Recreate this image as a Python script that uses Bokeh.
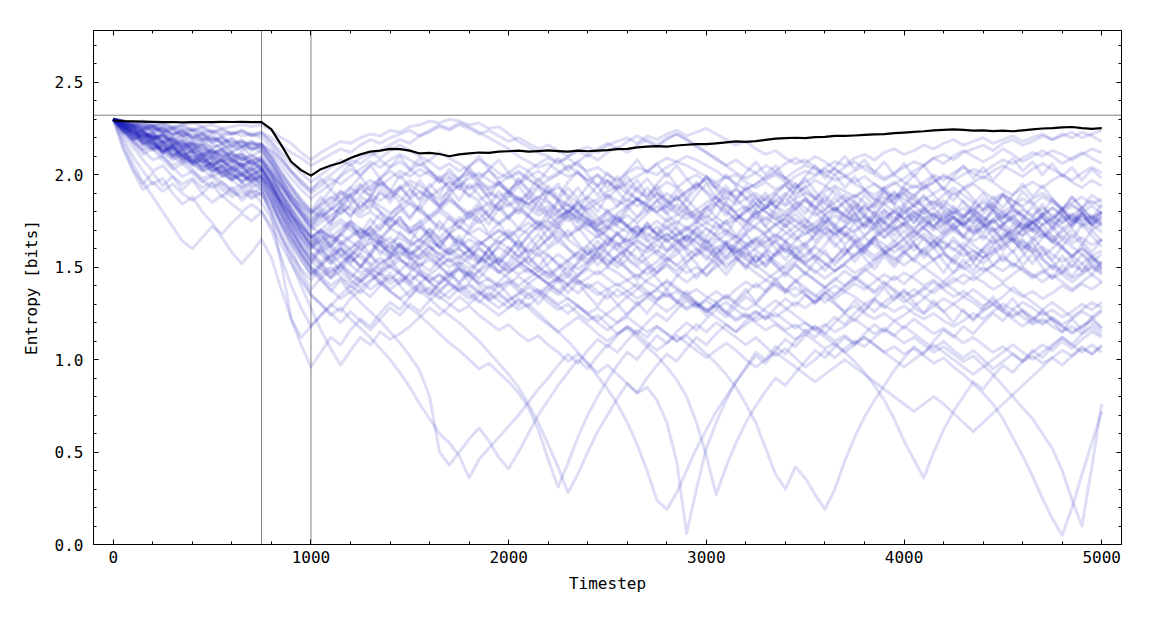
from bokeh.plotting import figure
from bokeh.models import Range1d, LinearAxis, SingleIntervalTicker, PrintfTickFormatter, Span
from bokeh.embed import file_html
from bokeh.resources import INLINE

# ---------------- data ----------------
timestep = list(range(0, 5001, 50))
marker_steps = [750, 1000]
max_entropy = 2.3219

mean_run = [2.294, 2.290, 2.288, 2.287, 2.286, 2.284, 2.285, 2.283, 2.284, 2.285, 2.284, 2.286, 2.285, 2.286, 2.284, 2.285,
            2.245, 2.160, 2.070, 2.025, 1.995,
            2.030, 2.050, 2.065, 2.090, 2.110, 2.125, 2.130, 2.140, 2.138, 2.130, 2.115, 2.118, 2.112, 2.100, 2.110, 2.115, 2.120, 2.118, 2.125, 2.127,
            2.130, 2.125, 2.128, 2.132, 2.128, 2.125, 2.130, 2.127, 2.130, 2.133, 2.138, 2.140, 2.148, 2.152, 2.155, 2.152, 2.158, 2.162, 2.165, 2.165,
            2.170, 2.175, 2.180, 2.178, 2.182, 2.188, 2.195, 2.198, 2.200, 2.198, 2.203, 2.205, 2.210, 2.210, 2.212, 2.215, 2.218, 2.220, 2.225, 2.228,
            2.232, 2.235, 2.240, 2.243, 2.245, 2.242, 2.238, 2.240, 2.236, 2.238, 2.235, 2.240, 2.245, 2.250, 2.252, 2.256, 2.258, 2.252, 2.248, 2.252]

run01 = [2.30, 2.29, 2.28, 2.29, 2.27, 2.28, 2.26, 2.27, 2.28, 2.26, 2.27, 2.25, 2.26, 2.27, 2.26, 2.27,
         2.24, 2.20, 2.17, 2.12, 2.08,
         2.12, 2.15, 2.18, 2.17, 2.20, 2.22, 2.21, 2.24, 2.23, 2.26, 2.27, 2.29, 2.28, 2.30, 2.29, 2.27, 2.28, 2.25, 2.26, 2.22,
         2.18, 2.15, 2.12, 2.10, 2.07, 2.09, 2.05, 2.02, 2.04, 2.00, 1.97, 2.01, 2.04, 2.02, 2.06, 2.09, 2.07, 2.10, 2.08, 2.05,
         2.02, 1.98, 2.00, 1.96, 1.93, 1.96, 1.92, 1.95, 1.99, 2.02, 2.00, 2.04, 2.07, 2.05, 2.09, 2.11, 2.08, 2.12, 2.14, 2.11,
         2.13, 2.16, 2.14, 2.17, 2.19, 2.16, 2.18, 2.20, 2.17, 2.19, 2.21, 2.18, 2.20, 2.22, 2.19, 2.21, 2.23, 2.20, 2.22, 2.24]
run02 = [2.30, 2.28, 2.27, 2.25, 2.26, 2.24, 2.25, 2.23, 2.24, 2.22, 2.23, 2.21, 2.22, 2.24, 2.22, 2.23,
         2.20, 2.16, 2.12, 2.09, 2.05,
         2.08, 2.11, 2.14, 2.12, 2.16, 2.19, 2.17, 2.20, 2.22, 2.24, 2.21, 2.23, 2.26, 2.24, 2.27, 2.25, 2.22, 2.24, 2.21, 2.18,
         2.20, 2.17, 2.14, 2.16, 2.13, 2.10, 2.13, 2.15, 2.12, 2.16, 2.18, 2.20, 2.17, 2.21, 2.19, 2.22, 2.24, 2.21, 2.23, 2.25,
         2.22, 2.19, 2.16, 2.18, 2.14, 2.11, 2.13, 2.09, 2.06, 2.08, 2.04, 2.01, 2.03, 1.99, 2.02, 2.05, 2.02, 1.98, 2.01, 2.04,
         2.07, 2.05, 2.09, 2.11, 2.08, 2.12, 2.14, 2.16, 2.13, 2.17, 2.19, 2.16, 2.18, 2.21, 2.19, 2.22, 2.20, 2.23, 2.21, 2.18]
run03 = [2.30, 2.27, 2.24, 2.22, 2.20, 2.21, 2.18, 2.19, 2.16, 2.17, 2.15, 2.16, 2.13, 2.15, 2.17, 2.16,
         2.13, 2.08, 2.02, 1.97, 1.92,
         1.96, 2.00, 2.04, 2.08, 2.06, 2.10, 2.13, 2.16, 2.19, 2.17, 2.21, 2.24, 2.27, 2.25, 2.28, 2.26, 2.23, 2.20, 2.17, 2.14,
         2.10, 2.07, 2.04, 2.06, 2.02, 1.99, 2.01, 1.97, 1.94, 1.97, 1.93, 1.96, 1.99, 2.02, 2.00, 2.04, 2.07, 2.05, 2.02, 1.99,
         1.96, 1.99, 1.95, 1.92, 1.95, 1.98, 2.01, 1.98, 2.02, 2.05, 2.03, 2.00, 1.97, 1.99, 1.95, 1.92, 1.95, 1.91, 1.88, 1.91,
         1.94, 1.92, 1.96, 1.99, 1.97, 2.00, 2.03, 2.01, 2.05, 2.08, 2.06, 2.09, 2.12, 2.10, 2.13, 2.11, 2.08, 2.11, 2.14, 2.12]
run04 = [2.30, 2.26, 2.22, 2.19, 2.16, 2.12, 2.14, 2.10, 2.07, 2.09, 2.05, 2.08, 2.04, 2.06, 2.03, 2.05,
         2.00, 1.93, 1.86, 1.80, 1.74,
         1.78, 1.82, 1.79, 1.84, 1.88, 1.85, 1.90, 1.87, 1.92, 1.95, 1.91, 1.88, 1.92, 1.96, 1.93, 1.89, 1.86, 1.90, 1.87, 1.83,
         1.86, 1.82, 1.78, 1.81, 1.77, 1.80, 1.84, 1.81, 1.85, 1.89, 1.86, 1.83, 1.87, 1.84, 1.80, 1.83, 1.79, 1.76, 1.79, 1.82,
         1.85, 1.88, 1.84, 1.87, 1.90, 1.86, 1.83, 1.80, 1.84, 1.87, 1.83, 1.79, 1.82, 1.78, 1.75, 1.78, 1.74, 1.77, 1.80, 1.76,
         1.79, 1.82, 1.78, 1.74, 1.77, 1.73, 1.76, 1.72, 1.75, 1.78, 1.74, 1.71, 1.74, 1.77, 1.73, 1.76, 1.79, 1.75, 1.78, 1.74]
run05 = [2.30, 2.25, 2.20, 2.16, 2.18, 2.13, 2.09, 2.11, 2.06, 2.02, 2.05, 2.01, 1.97, 2.00, 1.96, 1.98,
         1.92, 1.85, 1.78, 1.72, 1.66,
         1.62, 1.67, 1.64, 1.60, 1.65, 1.69, 1.66, 1.71, 1.68, 1.64, 1.60, 1.64, 1.61, 1.57, 1.61, 1.65, 1.62, 1.66, 1.70, 1.67,
         1.71, 1.68, 1.72, 1.75, 1.71, 1.67, 1.70, 1.74, 1.70, 1.66, 1.62, 1.65, 1.61, 1.58, 1.62, 1.59, 1.63, 1.67, 1.64, 1.60,
         1.57, 1.61, 1.58, 1.62, 1.66, 1.63, 1.67, 1.64, 1.60, 1.63, 1.67, 1.71, 1.68, 1.72, 1.69, 1.73, 1.70, 1.66, 1.70, 1.74,
         1.71, 1.75, 1.72, 1.68, 1.71, 1.67, 1.64, 1.67, 1.63, 1.66, 1.70, 1.67, 1.71, 1.68, 1.64, 1.67, 1.63, 1.66, 1.62, 1.65]
run06 = [2.30, 2.28, 2.25, 2.23, 2.20, 2.22, 2.19, 2.16, 2.18, 2.15, 2.12, 2.14, 2.11, 2.08, 2.10, 2.07,
         2.01, 1.94, 1.88, 1.83, 1.79,
         1.83, 1.87, 1.91, 1.88, 1.93, 1.97, 1.94, 1.98, 2.02, 1.99, 2.03, 2.00, 1.96, 1.99, 1.95, 1.92, 1.95, 1.91, 1.88, 1.91,
         1.87, 1.84, 1.88, 1.85, 1.81, 1.77, 1.80, 1.76, 1.73, 1.76, 1.72, 1.69, 1.72, 1.68, 1.65, 1.68, 1.64, 1.67, 1.71, 1.74,
         1.71, 1.75, 1.78, 1.75, 1.79, 1.82, 1.86, 1.83, 1.87, 1.90, 1.87, 1.91, 1.94, 1.91, 1.88, 1.91, 1.87, 1.84, 1.87, 1.90,
         1.86, 1.83, 1.86, 1.82, 1.79, 1.82, 1.78, 1.81, 1.84, 1.80, 1.83, 1.87, 1.84, 1.88, 1.85, 1.81, 1.84, 1.80, 1.83, 1.79]
run07 = [2.30, 2.22, 2.15, 2.08, 2.02, 2.05, 1.99, 1.95, 1.98, 1.93, 1.96, 1.92, 1.88, 1.91, 1.87, 1.90,
         1.83, 1.74, 1.65, 1.57, 1.50,
         1.46, 1.50, 1.45, 1.41, 1.45, 1.49, 1.46, 1.50, 1.54, 1.51, 1.47, 1.43, 1.46, 1.42, 1.38, 1.41, 1.37, 1.33, 1.36, 1.32,
         1.35, 1.39, 1.36, 1.40, 1.44, 1.41, 1.45, 1.49, 1.46, 1.50, 1.47, 1.43, 1.46, 1.42, 1.39, 1.42, 1.38, 1.35, 1.38, 1.34,
         1.31, 1.34, 1.30, 1.27, 1.30, 1.26, 1.23, 1.27, 1.31, 1.28, 1.32, 1.36, 1.33, 1.37, 1.34, 1.30, 1.33, 1.29, 1.26, 1.29,
         1.25, 1.22, 1.25, 1.21, 1.18, 1.21, 1.25, 1.22, 1.26, 1.30, 1.27, 1.31, 1.28, 1.24, 1.27, 1.23, 1.26, 1.30, 1.27, 1.31]
run08 = [2.30, 2.24, 2.18, 2.13, 2.08, 2.10, 2.04, 1.99, 2.02, 1.97, 1.93, 1.96, 1.91, 1.88, 1.92, 1.89,
         1.80, 1.68, 1.56, 1.45, 1.35,
         1.30, 1.24, 1.28, 1.22, 1.17, 1.12, 1.06, 1.00, 0.93, 0.85, 0.76, 0.68, 0.60, 0.55, 0.48, 0.36, 0.46, 0.52, 0.58, 0.64,
         0.70, 0.77, 0.84, 0.90, 0.97, 1.03, 0.98, 1.05, 1.11, 1.07, 1.13, 1.18, 1.14, 1.20, 1.25, 1.21, 1.27, 1.32, 1.28, 1.33,
         1.37, 1.33, 1.38, 1.42, 1.39, 1.43, 1.40, 1.36, 1.39, 1.35, 1.31, 1.34, 1.30, 1.26, 1.29, 1.25, 1.22, 1.25, 1.21, 1.24,
         1.28, 1.25, 1.29, 1.33, 1.30, 1.34, 1.31, 1.27, 1.30, 1.26, 1.23, 1.26, 1.22, 1.19, 1.22, 1.18, 1.15, 1.18, 1.21, 1.17]
run09 = [2.30, 2.27, 2.23, 2.20, 2.17, 2.13, 2.15, 2.11, 2.08, 2.04, 2.07, 2.03, 2.00, 1.97, 2.00, 1.96,
         1.88, 1.78, 1.67, 1.57, 1.48,
         1.43, 1.38, 1.33, 1.37, 1.31, 1.26, 1.21, 1.15, 1.09, 1.02, 0.94, 0.80, 0.50, 0.43, 0.50, 0.57, 0.63, 0.56, 0.47, 0.41,
         0.50, 0.60, 0.70, 0.78, 0.86, 0.93, 1.00, 0.95, 1.02, 1.08, 1.04, 1.10, 1.16, 1.12, 1.18, 1.14, 1.10, 1.14, 1.19, 1.15,
         1.20, 1.16, 1.12, 1.08, 1.12, 1.07, 1.02, 1.06, 1.01, 0.96, 1.00, 1.05, 1.01, 1.06, 1.10, 1.07, 1.12, 1.16, 1.13, 1.18,
         1.14, 1.10, 1.06, 1.10, 1.05, 1.01, 1.05, 1.00, 0.95, 0.99, 1.03, 0.99, 1.04, 1.08, 1.05, 1.10, 1.06, 1.11, 1.15, 1.12]
run10 = [2.30, 2.28, 2.26, 2.23, 2.21, 2.18, 2.20, 2.17, 2.14, 2.16, 2.13, 2.10, 2.12, 2.09, 2.06, 2.08,
         2.00, 1.91, 1.82, 1.74, 1.67,
         1.62, 1.58, 1.63, 1.59, 1.55, 1.51, 1.55, 1.50, 1.46, 1.42, 1.37, 1.33, 1.28, 1.24, 1.20, 1.15, 1.10, 1.04, 0.98, 0.92,
         0.85, 0.76, 0.66, 0.54, 0.42, 0.28, 0.38, 0.50, 0.61, 0.70, 0.79, 0.87, 0.82, 0.90, 0.97, 1.03, 0.99, 1.06, 1.12, 1.08,
         1.14, 1.19, 1.15, 1.21, 1.26, 1.22, 1.28, 1.33, 1.29, 1.35, 1.31, 1.36, 1.40, 1.37, 1.41, 1.38, 1.42, 1.46, 1.43, 1.47,
         1.44, 1.40, 1.43, 1.39, 1.42, 1.46, 1.43, 1.47, 1.51, 1.48, 1.52, 1.49, 1.45, 1.48, 1.44, 1.47, 1.51, 1.48, 1.52, 1.49]
run11 = [2.30, 2.26, 2.21, 2.18, 2.14, 2.16, 2.12, 2.09, 2.05, 2.08, 2.04, 2.01, 2.04, 2.00, 1.97, 2.00,
         1.93, 1.84, 1.76, 1.69, 1.62,
         1.58, 1.62, 1.57, 1.53, 1.57, 1.52, 1.48, 1.51, 1.47, 1.43, 1.46, 1.42, 1.38, 1.41, 1.37, 1.40, 1.36, 1.32, 1.35, 1.31,
         1.27, 1.30, 1.25, 1.20, 1.15, 1.10, 1.04, 0.98, 0.91, 0.84, 0.76, 0.66, 0.54, 0.40, 0.24, 0.19, 0.28, 0.40, 0.52, 0.62,
         0.72, 0.80, 0.88, 0.95, 1.02, 0.98, 1.05, 1.11, 1.07, 1.13, 1.18, 1.14, 1.20, 1.25, 1.21, 1.27, 1.32, 1.28, 1.33, 1.37,
         1.34, 1.38, 1.42, 1.38, 1.34, 1.37, 1.33, 1.29, 1.32, 1.28, 1.24, 1.27, 1.23, 1.20, 1.23, 1.19, 1.22, 1.26, 1.23, 1.27]
run12 = [2.30, 2.25, 2.27, 2.23, 2.20, 2.22, 2.18, 2.15, 2.17, 2.13, 2.10, 2.12, 2.08, 2.05, 2.08, 2.04,
         1.97, 1.88, 1.79, 1.70, 1.62,
         1.57, 1.52, 1.56, 1.51, 1.47, 1.50, 1.46, 1.41, 1.44, 1.40, 1.36, 1.39, 1.34, 1.30, 1.26, 1.29, 1.24, 1.20, 1.16, 1.19,
         1.14, 1.10, 1.13, 1.08, 1.04, 0.99, 1.03, 0.98, 0.93, 0.97, 0.92, 0.87, 0.82, 0.85, 0.78, 0.66, 0.45, 0.06, 0.30, 0.52,
         0.66, 0.78, 0.88, 0.96, 1.04, 1.00, 1.07, 1.03, 1.10, 1.16, 1.12, 1.18, 1.23, 1.19, 1.25, 1.30, 1.26, 1.31, 1.35, 1.31,
         1.35, 1.39, 1.36, 1.40, 1.44, 1.41, 1.45, 1.42, 1.38, 1.41, 1.37, 1.34, 1.37, 1.33, 1.36, 1.40, 1.37, 1.41, 1.38, 1.42]
run13 = [2.30, 2.27, 2.24, 2.20, 2.22, 2.18, 2.14, 2.16, 2.12, 2.09, 2.11, 2.07, 2.04, 2.07, 2.03, 2.06,
         1.99, 1.90, 1.82, 1.75, 1.68,
         1.64, 1.68, 1.63, 1.67, 1.71, 1.67, 1.63, 1.66, 1.61, 1.57, 1.60, 1.55, 1.51, 1.54, 1.49, 1.45, 1.48, 1.43, 1.39, 1.42,
         1.37, 1.33, 1.36, 1.31, 1.27, 1.30, 1.25, 1.21, 1.24, 1.19, 1.14, 1.17, 1.12, 1.07, 1.02, 0.96, 0.89, 0.80, 0.66, 0.48,
         0.27, 0.42, 0.55, 0.66, 0.75, 0.83, 0.90, 0.86, 0.93, 0.99, 1.05, 1.01, 1.07, 1.12, 1.08, 1.14, 1.19, 1.15, 1.21, 1.17,
         1.22, 1.18, 1.14, 1.17, 1.13, 1.09, 1.12, 1.08, 1.04, 1.07, 1.03, 0.99, 1.02, 0.98, 1.01, 1.05, 1.02, 1.06, 1.03, 1.07]
run14 = [2.30, 2.24, 2.19, 2.14, 2.17, 2.12, 2.08, 2.10, 2.06, 2.02, 2.04, 2.00, 1.97, 2.00, 1.96, 1.99,
         1.91, 1.82, 1.73, 1.65, 1.58,
         1.53, 1.57, 1.52, 1.56, 1.60, 1.56, 1.52, 1.55, 1.59, 1.55, 1.51, 1.54, 1.50, 1.46, 1.49, 1.45, 1.41, 1.44, 1.40, 1.43,
         1.39, 1.35, 1.38, 1.34, 1.30, 1.33, 1.29, 1.25, 1.28, 1.24, 1.20, 1.23, 1.19, 1.15, 1.18, 1.14, 1.10, 1.13, 1.08, 1.03,
         0.98, 0.92, 0.85, 0.76, 0.66, 0.52, 0.38, 0.30, 0.42, 0.36, 0.27, 0.19, 0.30, 0.45, 0.58, 0.69, 0.78, 0.86, 0.94, 1.01,
         1.07, 1.03, 1.10, 1.16, 1.12, 1.18, 1.14, 1.20, 1.25, 1.21, 1.27, 1.23, 1.19, 1.22, 1.18, 1.15, 1.18, 1.14, 1.17, 1.13]
run15 = [2.30, 2.28, 2.24, 2.21, 2.18, 2.20, 2.16, 2.13, 2.15, 2.11, 2.08, 2.10, 2.06, 2.09, 2.05, 2.08,
         2.02, 1.94, 1.86, 1.79, 1.72,
         1.68, 1.72, 1.76, 1.72, 1.68, 1.71, 1.67, 1.63, 1.66, 1.62, 1.65, 1.61, 1.57, 1.60, 1.56, 1.59, 1.55, 1.51, 1.54, 1.50,
         1.53, 1.49, 1.45, 1.48, 1.44, 1.47, 1.43, 1.39, 1.42, 1.38, 1.41, 1.37, 1.33, 1.36, 1.32, 1.35, 1.31, 1.27, 1.30, 1.26,
         1.29, 1.25, 1.21, 1.24, 1.20, 1.16, 1.19, 1.15, 1.11, 1.14, 1.10, 1.06, 1.09, 1.04, 0.99, 0.93, 0.86, 0.78, 0.68, 0.56,
         0.46, 0.36, 0.50, 0.62, 0.72, 0.80, 0.88, 0.84, 0.91, 0.97, 0.93, 0.99, 1.05, 1.01, 1.07, 1.12, 1.08, 1.14, 1.19, 1.15]
run16 = [2.30, 2.26, 2.23, 2.19, 2.16, 2.18, 2.14, 2.11, 2.13, 2.09, 2.06, 2.08, 2.04, 2.01, 2.03, 2.00,
         1.94, 1.86, 1.78, 1.71, 1.64,
         1.60, 1.64, 1.68, 1.64, 1.60, 1.63, 1.59, 1.55, 1.58, 1.54, 1.57, 1.61, 1.57, 1.53, 1.56, 1.52, 1.48, 1.51, 1.47, 1.50,
         1.46, 1.49, 1.45, 1.41, 1.44, 1.40, 1.43, 1.39, 1.35, 1.38, 1.34, 1.37, 1.41, 1.37, 1.33, 1.36, 1.32, 1.28, 1.31, 1.27,
         1.30, 1.26, 1.22, 1.25, 1.21, 1.24, 1.20, 1.16, 1.19, 1.15, 1.18, 1.14, 1.10, 1.13, 1.09, 1.12, 1.08, 1.04, 1.07, 1.03,
         1.06, 1.02, 0.98, 1.01, 0.96, 0.92, 0.87, 0.82, 0.76, 0.68, 0.58, 0.48, 0.37, 0.25, 0.14, 0.05, 0.20, 0.38, 0.55, 0.72]
run17 = [2.30, 2.27, 2.25, 2.22, 2.19, 2.21, 2.17, 2.14, 2.16, 2.12, 2.09, 2.12, 2.08, 2.05, 2.07, 2.04,
         1.97, 1.89, 1.81, 1.73, 1.66,
         1.70, 1.66, 1.62, 1.66, 1.70, 1.66, 1.62, 1.58, 1.62, 1.58, 1.54, 1.58, 1.54, 1.50, 1.53, 1.49, 1.53, 1.56, 1.52, 1.48,
         1.51, 1.47, 1.50, 1.46, 1.42, 1.45, 1.41, 1.44, 1.48, 1.44, 1.40, 1.43, 1.39, 1.35, 1.38, 1.34, 1.37, 1.33, 1.29, 1.32,
         1.28, 1.31, 1.27, 1.23, 1.26, 1.22, 1.25, 1.21, 1.17, 1.20, 1.16, 1.19, 1.15, 1.18, 1.22, 1.18, 1.14, 1.17, 1.13, 1.09,
         1.12, 1.08, 1.04, 1.07, 1.03, 0.99, 1.02, 0.97, 0.92, 0.86, 0.80, 0.74, 0.68, 0.60, 0.52, 0.40, 0.24, 0.10, 0.42, 0.76]
run18 = [2.30, 2.18, 2.06, 1.96, 1.88, 1.80, 1.72, 1.64, 1.60, 1.66, 1.72, 1.68, 1.74, 1.79, 1.75, 1.80,
         1.70, 1.55, 1.40, 1.28, 1.18,
         1.24, 1.30, 1.26, 1.33, 1.38, 1.34, 1.40, 1.45, 1.41, 1.47, 1.52, 1.48, 1.54, 1.58, 1.54, 1.60, 1.64, 1.60, 1.66, 1.70,
         1.66, 1.71, 1.75, 1.71, 1.76, 1.80, 1.76, 1.72, 1.76, 1.80, 1.76, 1.72, 1.68, 1.72, 1.68, 1.64, 1.68, 1.72, 1.68, 1.64,
         1.60, 1.64, 1.60, 1.56, 1.60, 1.64, 1.68, 1.64, 1.69, 1.73, 1.69, 1.74, 1.78, 1.74, 1.79, 1.83, 1.79, 1.84, 1.80, 1.76,
         1.80, 1.76, 1.72, 1.76, 1.80, 1.77, 1.81, 1.85, 1.81, 1.77, 1.81, 1.78, 1.74, 1.78, 1.82, 1.79, 1.83, 1.80, 1.76, 1.80]
run19 = [2.30, 2.20, 2.10, 2.02, 1.95, 1.98, 1.90, 1.84, 1.88, 1.80, 1.74, 1.66, 1.58, 1.52, 1.58, 1.65,
         1.55, 1.38, 1.22, 1.08, 0.96,
         1.04, 1.12, 1.08, 1.16, 1.22, 1.18, 1.25, 1.31, 1.27, 1.34, 1.39, 1.35, 1.41, 1.46, 1.42, 1.48, 1.44, 1.50, 1.55, 1.51,
         1.56, 1.52, 1.48, 1.52, 1.57, 1.53, 1.49, 1.53, 1.58, 1.54, 1.50, 1.54, 1.50, 1.46, 1.50, 1.55, 1.51, 1.56, 1.60, 1.56,
         1.52, 1.56, 1.61, 1.57, 1.53, 1.57, 1.53, 1.49, 1.53, 1.57, 1.61, 1.57, 1.53, 1.57, 1.62, 1.58, 1.54, 1.58, 1.62, 1.58,
         1.54, 1.50, 1.54, 1.58, 1.54, 1.50, 1.46, 1.50, 1.46, 1.42, 1.46, 1.50, 1.46, 1.42, 1.46, 1.42, 1.38, 1.42, 1.46, 1.42]
run20 = [2.30, 2.15, 2.02, 1.92, 1.96, 1.91, 1.95, 1.90, 1.86, 1.90, 1.85, 1.89, 1.84, 1.80, 1.84, 1.80,
         1.72, 1.62, 1.52, 1.43, 1.35,
         1.30, 1.25, 1.20, 1.26, 1.21, 1.16, 1.22, 1.28, 1.24, 1.30, 1.26, 1.32, 1.37, 1.33, 1.39, 1.35, 1.31, 1.36, 1.32, 1.28,
         1.33, 1.29, 1.34, 1.39, 1.35, 1.40, 1.36, 1.41, 1.37, 1.33, 1.38, 1.34, 1.30, 1.34, 1.30, 1.26, 1.30, 1.34, 1.30, 1.26,
         1.30, 1.35, 1.31, 1.36, 1.41, 1.37, 1.42, 1.38, 1.34, 1.38, 1.34, 1.39, 1.44, 1.40, 1.45, 1.41, 1.37, 1.42, 1.38, 1.34,
         1.38, 1.34, 1.30, 1.26, 1.30, 1.26, 1.22, 1.26, 1.30, 1.26, 1.22, 1.18, 1.22, 1.26, 1.22, 1.18, 1.14, 1.18, 1.22, 1.26]
run21 = [2.30, 2.29, 2.27, 2.25, 2.26, 2.23, 2.24, 2.21, 2.22, 2.19, 2.20, 2.17, 2.18, 2.15, 2.17, 2.14,
         2.06, 1.96, 1.86, 1.78, 1.70,
         1.74, 1.78, 1.82, 1.78, 1.83, 1.87, 1.83, 1.79, 1.83, 1.87, 1.91, 1.87, 1.83, 1.87, 1.83, 1.79, 1.82, 1.78, 1.74, 1.78,
         1.82, 1.78, 1.74, 1.70, 1.74, 1.78, 1.74, 1.70, 1.66, 1.70, 1.74, 1.78, 1.74, 1.79, 1.83, 1.79, 1.84, 1.80, 1.76, 1.80,
         1.84, 1.80, 1.76, 1.80, 1.84, 1.80, 1.76, 1.72, 1.76, 1.72, 1.68, 1.72, 1.68, 1.72, 1.76, 1.72, 1.77, 1.81, 1.77, 1.73,
         1.77, 1.81, 1.85, 1.81, 1.77, 1.73, 1.77, 1.73, 1.69, 1.73, 1.77, 1.73, 1.69, 1.73, 1.77, 1.81, 1.77, 1.73, 1.77, 1.73]
run22 = [2.30, 2.27, 2.23, 2.20, 2.22, 2.18, 2.15, 2.17, 2.13, 2.10, 2.13, 2.09, 2.12, 2.08, 2.11, 2.07,
         1.99, 1.90, 1.81, 1.73, 1.66,
         1.70, 1.66, 1.71, 1.75, 1.71, 1.67, 1.71, 1.76, 1.72, 1.68, 1.72, 1.68, 1.64, 1.68, 1.72, 1.68, 1.64, 1.60, 1.64, 1.60,
         1.56, 1.60, 1.56, 1.60, 1.64, 1.60, 1.56, 1.52, 1.56, 1.52, 1.56, 1.60, 1.64, 1.60, 1.64, 1.68, 1.64, 1.60, 1.56, 1.60,
         1.64, 1.68, 1.64, 1.60, 1.64, 1.60, 1.56, 1.60, 1.56, 1.52, 1.56, 1.52, 1.48, 1.52, 1.56, 1.60, 1.56, 1.60, 1.64, 1.60,
         1.64, 1.68, 1.64, 1.60, 1.64, 1.60, 1.56, 1.60, 1.64, 1.68, 1.64, 1.60, 1.64, 1.68, 1.64, 1.60, 1.56, 1.52, 1.56, 1.52]
run23 = [2.30, 2.28, 2.26, 2.27, 2.24, 2.25, 2.22, 2.23, 2.20, 2.21, 2.19, 2.20, 2.17, 2.18, 2.16, 2.17,
         2.12, 2.05, 1.98, 1.92, 1.87,
         1.91, 1.95, 1.99, 2.03, 2.00, 2.05, 2.08, 2.04, 2.07, 2.03, 1.99, 2.02, 1.97, 1.94, 1.98, 2.01, 1.97, 1.93, 1.96, 1.92,
         1.95, 1.99, 2.02, 1.98, 2.01, 2.05, 2.01, 1.97, 2.00, 1.96, 1.92, 1.95, 1.91, 1.88, 1.92, 1.96, 1.93, 1.97, 2.00, 1.96,
         1.93, 1.89, 1.92, 1.88, 1.84, 1.87, 1.91, 1.94, 1.90, 1.93, 1.97, 1.94, 1.90, 1.86, 1.89, 1.85, 1.82, 1.86, 1.90, 1.87,
         1.83, 1.86, 1.90, 1.93, 1.89, 1.92, 1.95, 1.91, 1.87, 1.90, 1.86, 1.83, 1.87, 1.90, 1.86, 1.82, 1.85, 1.88, 1.84, 1.87]
run24 = [2.30, 2.24, 2.19, 2.22, 2.17, 2.13, 2.16, 2.11, 2.07, 2.10, 2.05, 2.01, 2.04, 1.99, 2.02, 1.98,
         1.89, 1.79, 1.70, 1.62, 1.55,
         1.51, 1.56, 1.60, 1.55, 1.51, 1.47, 1.52, 1.56, 1.61, 1.57, 1.62, 1.66, 1.61, 1.57, 1.60, 1.56, 1.52, 1.55, 1.51, 1.47,
         1.51, 1.55, 1.50, 1.46, 1.50, 1.54, 1.58, 1.54, 1.59, 1.63, 1.59, 1.55, 1.51, 1.55, 1.59, 1.55, 1.51, 1.47, 1.50, 1.46,
         1.50, 1.54, 1.58, 1.54, 1.50, 1.53, 1.57, 1.61, 1.57, 1.53, 1.56, 1.52, 1.48, 1.51, 1.47, 1.50, 1.54, 1.58, 1.54, 1.58,
         1.62, 1.58, 1.54, 1.57, 1.53, 1.49, 1.52, 1.48, 1.51, 1.55, 1.52, 1.48, 1.44, 1.47, 1.51, 1.48, 1.44, 1.47, 1.50, 1.47]
run25 = [2.30, 2.29, 2.26, 2.24, 2.25, 2.22, 2.19, 2.21, 2.18, 2.20, 2.17, 2.14, 2.16, 2.13, 2.15, 2.12,
         2.05, 1.97, 1.89, 1.82, 1.76,
         1.80, 1.85, 1.89, 1.93, 1.89, 1.94, 1.98, 2.02, 1.98, 2.02, 2.06, 2.02, 1.98, 2.01, 1.97, 1.93, 1.96, 1.92, 1.95, 1.99,
         2.02, 1.98, 1.94, 1.90, 1.93, 1.89, 1.85, 1.88, 1.84, 1.80, 1.83, 1.87, 1.83, 1.86, 1.90, 1.86, 1.82, 1.78, 1.81, 1.85,
         1.88, 1.84, 1.80, 1.83, 1.79, 1.82, 1.86, 1.90, 1.86, 1.82, 1.78, 1.81, 1.85, 1.89, 1.85, 1.81, 1.84, 1.88, 1.84, 1.80,
         1.83, 1.79, 1.82, 1.86, 1.82, 1.78, 1.81, 1.77, 1.74, 1.77, 1.81, 1.78, 1.74, 1.78, 1.82, 1.78, 1.75, 1.79, 1.76, 1.72]
run26 = [2.30, 2.26, 2.22, 2.24, 2.20, 2.17, 2.19, 2.15, 2.12, 2.14, 2.10, 2.07, 2.09, 2.05, 2.02, 2.04,
         1.95, 1.85, 1.76, 1.68, 1.61,
         1.65, 1.70, 1.74, 1.70, 1.66, 1.69, 1.73, 1.77, 1.73, 1.69, 1.72, 1.76, 1.80, 1.76, 1.72, 1.68, 1.71, 1.67, 1.63, 1.66,
         1.70, 1.74, 1.70, 1.73, 1.77, 1.81, 1.77, 1.73, 1.69, 1.72, 1.68, 1.64, 1.67, 1.71, 1.75, 1.71, 1.67, 1.70, 1.74, 1.78,
         1.74, 1.70, 1.66, 1.69, 1.73, 1.77, 1.73, 1.76, 1.72, 1.68, 1.71, 1.75, 1.71, 1.67, 1.70, 1.74, 1.78, 1.74, 1.70, 1.73,
         1.69, 1.72, 1.76, 1.80, 1.76, 1.72, 1.68, 1.71, 1.75, 1.71, 1.67, 1.70, 1.74, 1.70, 1.66, 1.69, 1.73, 1.77, 1.73, 1.69]
run27 = [2.30, 2.25, 2.21, 2.17, 2.19, 2.14, 2.10, 2.12, 2.08, 2.04, 2.06, 2.02, 1.98, 2.01, 1.97, 1.99,
         1.90, 1.80, 1.70, 1.61, 1.53,
         1.49, 1.44, 1.48, 1.43, 1.39, 1.43, 1.47, 1.52, 1.56, 1.61, 1.65, 1.70, 1.66, 1.71, 1.75, 1.80, 1.76, 1.81, 1.85, 1.89,
         1.86, 1.90, 1.94, 1.90, 1.86, 1.83, 1.79, 1.75, 1.71, 1.67, 1.63, 1.59, 1.55, 1.51, 1.47, 1.51, 1.46, 1.42, 1.46, 1.50,
         1.54, 1.59, 1.63, 1.68, 1.72, 1.68, 1.73, 1.77, 1.82, 1.86, 1.82, 1.78, 1.73, 1.69, 1.65, 1.60, 1.64, 1.59, 1.55, 1.51,
         1.55, 1.60, 1.64, 1.69, 1.73, 1.78, 1.74, 1.79, 1.83, 1.79, 1.75, 1.70, 1.74, 1.69, 1.65, 1.61, 1.56, 1.60, 1.55, 1.51]
run28 = [2.30, 2.28, 2.25, 2.23, 2.20, 2.21, 2.18, 2.16, 2.17, 2.14, 2.12, 2.13, 2.10, 2.11, 2.08, 2.09,
         2.02, 1.94, 1.86, 1.79, 1.72,
         1.76, 1.81, 1.86, 1.90, 1.95, 1.91, 1.96, 1.92, 1.88, 1.84, 1.80, 1.76, 1.72, 1.68, 1.64, 1.60, 1.56, 1.52, 1.48, 1.44,
         1.40, 1.44, 1.48, 1.44, 1.49, 1.53, 1.58, 1.62, 1.67, 1.71, 1.76, 1.72, 1.77, 1.81, 1.86, 1.90, 1.86, 1.91, 1.95, 1.91,
         1.87, 1.83, 1.79, 1.75, 1.71, 1.67, 1.63, 1.59, 1.55, 1.51, 1.47, 1.51, 1.55, 1.60, 1.56, 1.61, 1.66, 1.70, 1.75, 1.79,
         1.84, 1.88, 1.84, 1.89, 1.93, 1.89, 1.85, 1.81, 1.85, 1.89, 1.86, 1.82, 1.78, 1.82, 1.78, 1.74, 1.78, 1.82, 1.86, 1.82]
run29 = [2.30, 2.23, 2.17, 2.11, 2.14, 2.08, 2.03, 2.06, 2.01, 1.96, 1.99, 1.94, 1.90, 1.93, 1.88, 1.91,
         1.80, 1.66, 1.53, 1.40, 1.28,
         1.16, 1.06, 0.97, 1.05, 1.12, 1.08, 1.15, 1.11, 1.14, 1.18, 1.23, 1.28, 1.24, 1.29, 1.34, 1.30, 1.35, 1.40, 1.36, 1.41,
         1.45, 1.41, 1.37, 1.33, 1.29, 1.25, 1.29, 1.24, 1.20, 1.16, 1.20, 1.25, 1.29, 1.34, 1.38, 1.43, 1.39, 1.35, 1.31, 1.27,
         1.23, 1.19, 1.15, 1.19, 1.23, 1.28, 1.32, 1.28, 1.24, 1.20, 1.16, 1.12, 1.08, 1.04, 1.08, 1.12, 1.08, 1.04, 1.00, 0.96,
         1.00, 1.04, 1.08, 1.04, 1.00, 0.96, 0.92, 0.96, 1.00, 1.04, 1.08, 1.04, 1.00, 1.04, 1.08, 1.12, 1.08, 1.04, 1.08, 1.04]
run30 = [2.30, 2.26, 2.21, 2.17, 2.13, 2.15, 2.10, 2.06, 2.08, 2.03, 1.99, 2.02, 1.97, 1.93, 1.96, 1.92,
         1.78, 1.52, 1.22, 1.12, 1.18,
         1.24, 1.29, 1.35, 1.40, 1.36, 1.42, 1.47, 1.43, 1.48, 1.53, 1.49, 1.45, 1.41, 1.45, 1.50, 1.46, 1.42, 1.38, 1.42, 1.47,
         1.51, 1.56, 1.60, 1.56, 1.52, 1.48, 1.52, 1.57, 1.61, 1.57, 1.53, 1.49, 1.45, 1.49, 1.53, 1.58, 1.62, 1.67, 1.63, 1.59,
         1.55, 1.51, 1.55, 1.51, 1.47, 1.43, 1.47, 1.51, 1.56, 1.52, 1.48, 1.44, 1.48, 1.52, 1.57, 1.61, 1.66, 1.62, 1.58, 1.62,
         1.67, 1.71, 1.67, 1.63, 1.59, 1.63, 1.59, 1.55, 1.59, 1.64, 1.68, 1.64, 1.60, 1.56, 1.60, 1.65, 1.61, 1.57, 1.53, 1.57]
run31 = [2.30, 2.29, 2.28, 2.26, 2.27, 2.25, 2.26, 2.24, 2.25, 2.23, 2.24, 2.22, 2.23, 2.21, 2.22, 2.20,
         2.15, 2.08, 2.01, 1.95, 1.90,
         1.94, 1.98, 1.95, 1.99, 2.03, 2.07, 2.04, 2.08, 2.11, 2.08, 2.05, 2.08, 2.12, 2.09, 2.06, 2.02, 1.99, 2.02, 1.98, 2.01,
         2.05, 2.02, 2.06, 2.09, 2.06, 2.10, 2.13, 2.10, 2.14, 2.17, 2.14, 2.18, 2.21, 2.18, 2.15, 2.19, 2.22, 2.19, 2.16, 2.12,
         2.09, 2.05, 2.08, 2.04, 2.01, 1.97, 2.00, 1.96, 1.93, 1.96, 1.99, 2.03, 2.00, 2.04, 2.07, 2.03, 2.00, 1.97, 2.00, 1.96,
         1.93, 1.96, 2.00, 1.97, 2.01, 2.04, 2.01, 1.98, 2.02, 2.05, 2.02, 1.99, 2.03, 2.06, 2.03, 2.00, 1.97, 2.01, 2.04, 2.01]
run32 = [2.30, 2.27, 2.24, 2.21, 2.23, 2.19, 2.16, 2.18, 2.14, 2.11, 2.14, 2.10, 2.07, 2.10, 2.06, 2.03,
         1.96, 1.87, 1.79, 1.72, 1.66,
         1.70, 1.75, 1.79, 1.83, 1.79, 1.84, 1.80, 1.76, 1.80, 1.85, 1.81, 1.77, 1.81, 1.86, 1.82, 1.78, 1.74, 1.77, 1.73, 1.77,
         1.81, 1.77, 1.73, 1.76, 1.80, 1.84, 1.80, 1.76, 1.72, 1.75, 1.79, 1.83, 1.87, 1.83, 1.79, 1.75, 1.78, 1.82, 1.78, 1.74,
         1.77, 1.73, 1.76, 1.80, 1.84, 1.80, 1.76, 1.79, 1.75, 1.71, 1.74, 1.78, 1.82, 1.78, 1.74, 1.77, 1.73, 1.76, 1.80, 1.84,
         1.80, 1.76, 1.79, 1.75, 1.71, 1.74, 1.78, 1.74, 1.70, 1.73, 1.77, 1.81, 1.77, 1.73, 1.76, 1.80, 1.76, 1.72, 1.75, 1.79]
run33 = [2.30, 2.25, 2.20, 2.22, 2.17, 2.13, 2.15, 2.10, 2.06, 2.08, 2.03, 1.99, 2.01, 1.96, 1.93, 1.95,
         1.86, 1.76, 1.66, 1.57, 1.49,
         1.44, 1.48, 1.52, 1.47, 1.43, 1.38, 1.42, 1.37, 1.33, 1.37, 1.41, 1.46, 1.50, 1.55, 1.51, 1.56, 1.60, 1.56, 1.61, 1.57,
         1.53, 1.49, 1.45, 1.41, 1.37, 1.33, 1.29, 1.25, 1.21, 1.25, 1.29, 1.34, 1.38, 1.43, 1.47, 1.52, 1.48, 1.53, 1.57, 1.62,
         1.58, 1.63, 1.67, 1.63, 1.59, 1.55, 1.51, 1.47, 1.43, 1.39, 1.35, 1.31, 1.35, 1.40, 1.44, 1.49, 1.45, 1.41, 1.37, 1.33,
         1.29, 1.33, 1.38, 1.42, 1.47, 1.51, 1.56, 1.52, 1.57, 1.61, 1.66, 1.62, 1.58, 1.54, 1.50, 1.46, 1.42, 1.46, 1.50, 1.46]
run34 = [2.30, 2.28, 2.26, 2.24, 2.25, 2.23, 2.21, 2.22, 2.20, 2.18, 2.19, 2.17, 2.15, 2.16, 2.14, 2.15,
         2.09, 2.01, 1.93, 1.86, 1.80,
         1.84, 1.88, 1.85, 1.89, 1.92, 1.89, 1.86, 1.90, 1.93, 1.97, 1.94, 1.90, 1.87, 1.91, 1.94, 1.98, 2.01, 1.97, 1.94, 1.91,
         1.87, 1.84, 1.88, 1.91, 1.87, 1.84, 1.80, 1.84, 1.87, 1.91, 1.94, 1.90, 1.87, 1.83, 1.80, 1.84, 1.87, 1.91, 1.94, 1.98,
         1.95, 1.91, 1.88, 1.92, 1.95, 1.99, 2.02, 1.98, 1.95, 1.91, 1.88, 1.84, 1.81, 1.85, 1.88, 1.92, 1.89, 1.93, 1.96, 1.92,
         1.89, 1.93, 1.96, 2.00, 1.97, 1.93, 1.96, 1.99, 1.96, 1.92, 1.89, 1.93, 1.96, 1.93, 1.97, 2.00, 1.96, 1.93, 1.97, 1.94]
run35 = [2.30, 2.24, 2.18, 2.13, 2.15, 2.10, 2.05, 2.08, 2.03, 1.98, 2.00, 1.96, 1.92, 1.95, 1.90, 1.93,
         1.84, 1.73, 1.63, 1.54, 1.46,
         1.51, 1.56, 1.61, 1.57, 1.62, 1.66, 1.62, 1.58, 1.54, 1.50, 1.46, 1.42, 1.46, 1.41, 1.37, 1.33, 1.37, 1.32, 1.28, 1.32,
         1.36, 1.41, 1.45, 1.41, 1.37, 1.41, 1.46, 1.50, 1.55, 1.51, 1.56, 1.60, 1.65, 1.61, 1.57, 1.53, 1.57, 1.62, 1.66, 1.71,
         1.67, 1.63, 1.59, 1.55, 1.51, 1.47, 1.43, 1.47, 1.51, 1.47, 1.43, 1.39, 1.35, 1.39, 1.43, 1.48, 1.52, 1.57, 1.61, 1.66,
         1.70, 1.66, 1.62, 1.66, 1.70, 1.66, 1.62, 1.58, 1.62, 1.66, 1.70, 1.74, 1.70, 1.66, 1.70, 1.74, 1.78, 1.74, 1.70, 1.74]
run36 = [2.30, 2.27, 2.23, 2.19, 2.21, 2.17, 2.13, 2.15, 2.11, 2.07, 2.09, 2.05, 2.02, 2.04, 2.00, 2.03,
         1.94, 1.84, 1.74, 1.65, 1.57,
         1.52, 1.47, 1.51, 1.46, 1.42, 1.46, 1.41, 1.37, 1.33, 1.28, 1.24, 1.19, 1.14, 1.09, 1.05, 1.00, 0.95, 0.98, 0.93, 0.88,
         0.82, 0.74, 0.62, 0.46, 0.31, 0.44, 0.58, 0.70, 0.80, 0.89, 0.97, 1.04, 1.00, 1.07, 1.13, 1.09, 1.15, 1.20, 1.16, 1.22,
         1.27, 1.23, 1.29, 1.34, 1.30, 1.36, 1.41, 1.37, 1.42, 1.47, 1.43, 1.39, 1.43, 1.48, 1.44, 1.40, 1.36, 1.40, 1.45, 1.41,
         1.46, 1.50, 1.46, 1.42, 1.38, 1.34, 1.38, 1.34, 1.30, 1.34, 1.39, 1.35, 1.31, 1.27, 1.31, 1.27, 1.23, 1.27, 1.31, 1.28]
run37 = [2.30, 2.26, 2.22, 2.18, 2.14, 2.16, 2.12, 2.08, 2.10, 2.06, 2.02, 2.04, 2.00, 1.96, 1.99, 1.95,
         1.87, 1.77, 1.67, 1.58, 1.50,
         1.45, 1.40, 1.44, 1.39, 1.43, 1.47, 1.43, 1.38, 1.42, 1.46, 1.42, 1.37, 1.33, 1.37, 1.41, 1.37, 1.32, 1.28, 1.24, 1.28,
         1.32, 1.28, 1.23, 1.19, 1.15, 1.19, 1.23, 1.19, 1.14, 1.10, 1.14, 1.18, 1.14, 1.09, 1.05, 1.09, 1.13, 1.09, 1.05, 1.01,
         1.05, 1.09, 1.05, 1.00, 0.96, 1.00, 1.04, 1.00, 0.96, 0.92, 0.88, 0.92, 0.96, 1.00, 0.96, 0.92, 0.88, 0.84, 0.80, 0.76,
         0.72, 0.76, 0.80, 0.76, 0.71, 0.66, 0.61, 0.66, 0.71, 0.76, 0.81, 0.86, 0.91, 0.96, 1.01, 0.97, 1.02, 1.07, 1.03, 1.08]
run38 = [2.30, 2.29, 2.27, 2.28, 2.26, 2.27, 2.25, 2.26, 2.24, 2.25, 2.23, 2.24, 2.22, 2.23, 2.21, 2.22,
         2.18, 2.12, 2.06, 2.01, 1.96,
         2.00, 2.04, 2.08, 2.05, 2.09, 2.12, 2.09, 2.13, 2.16, 2.13, 2.10, 2.07, 2.03, 2.06, 2.02, 2.05, 2.08, 2.05, 2.01, 1.98,
         2.01, 1.97, 1.94, 1.97, 2.00, 2.04, 2.07, 2.11, 2.08, 2.12, 2.15, 2.12, 2.16, 2.19, 2.16, 2.20, 2.22, 2.19, 2.15, 2.12,
         2.08, 2.05, 2.01, 1.98, 2.01, 2.05, 2.02, 2.06, 2.09, 2.06, 2.10, 2.07, 2.03, 2.00, 1.96, 1.99, 1.95, 1.92, 1.95, 1.98,
         2.02, 2.05, 2.09, 2.06, 2.10, 2.13, 2.10, 2.07, 2.10, 2.14, 2.11, 2.07, 2.10, 2.13, 2.10, 2.06, 2.09, 2.12, 2.09, 2.06]
run39 = [2.30, 2.26, 2.21, 2.23, 2.19, 2.15, 2.17, 2.13, 2.09, 2.12, 2.08, 2.05, 2.08, 2.04, 2.00, 2.03,
         1.94, 1.84, 1.75, 1.67, 1.60,
         1.64, 1.60, 1.56, 1.60, 1.64, 1.68, 1.64, 1.60, 1.63, 1.59, 1.55, 1.59, 1.63, 1.67, 1.63, 1.59, 1.62, 1.66, 1.70, 1.66,
         1.62, 1.58, 1.61, 1.65, 1.69, 1.65, 1.61, 1.57, 1.60, 1.64, 1.68, 1.72, 1.68, 1.64, 1.67, 1.71, 1.75, 1.71, 1.67, 1.63,
         1.66, 1.62, 1.58, 1.61, 1.65, 1.69, 1.73, 1.69, 1.65, 1.68, 1.72, 1.76, 1.72, 1.68, 1.64, 1.67, 1.71, 1.75, 1.71, 1.74,
         1.78, 1.74, 1.70, 1.73, 1.77, 1.73, 1.69, 1.72, 1.76, 1.80, 1.76, 1.72, 1.75, 1.79, 1.75, 1.71, 1.74, 1.78, 1.74, 1.77]
run40 = [2.30, 2.28, 2.27, 2.25, 2.26, 2.24, 2.22, 2.23, 2.21, 2.22, 2.20, 2.18, 2.19, 2.17, 2.18, 2.16,
         2.10, 2.02, 1.94, 1.87, 1.81,
         1.77, 1.81, 1.85, 1.81, 1.77, 1.80, 1.76, 1.72, 1.75, 1.71, 1.74, 1.78, 1.82, 1.78, 1.74, 1.77, 1.81, 1.85, 1.81, 1.84,
         1.88, 1.84, 1.80, 1.83, 1.79, 1.75, 1.78, 1.74, 1.70, 1.73, 1.77, 1.73, 1.69, 1.72, 1.68, 1.64, 1.67, 1.71, 1.75, 1.71,
         1.67, 1.70, 1.66, 1.62, 1.65, 1.61, 1.64, 1.68, 1.72, 1.76, 1.72, 1.68, 1.71, 1.67, 1.63, 1.66, 1.62, 1.58, 1.61, 1.65,
         1.69, 1.65, 1.61, 1.64, 1.60, 1.56, 1.59, 1.55, 1.58, 1.62, 1.66, 1.62, 1.58, 1.61, 1.57, 1.53, 1.56, 1.60, 1.56, 1.59]
run41 = [2.30, 2.27, 2.22, 2.24, 2.19, 2.21, 2.16, 2.18, 2.13, 2.16, 2.11, 2.14, 2.09, 2.12, 2.07, 2.10,
         2.03, 1.95, 1.84, 1.78, 1.71,
         1.79, 1.73, 1.84, 1.77, 1.86, 1.81, 1.92, 1.85, 1.93, 1.88, 1.97, 1.90, 1.84, 1.93, 1.86, 1.95, 1.89, 1.83, 1.91, 1.85,
         1.79, 1.88, 1.81, 1.90, 1.95, 1.87, 1.93, 1.86, 1.80, 1.89, 1.83, 1.91, 1.97, 1.89, 1.94, 1.86, 1.80, 1.87, 1.81, 1.76,
         1.84, 1.78, 1.86, 1.92, 1.85, 1.90, 1.83, 1.77, 1.85, 1.79, 1.87, 1.81, 1.88, 1.82, 1.76, 1.84, 1.78, 1.85, 1.91, 1.84,
         1.89, 1.82, 1.77, 1.84, 1.79, 1.86, 1.80, 1.74, 1.82, 1.76, 1.83, 1.78, 1.71, 1.79, 1.74, 1.81, 1.75, 1.82, 1.77, 1.80]
run42 = [2.30, 2.25, 2.27, 2.20, 2.23, 2.17, 2.20, 2.14, 2.17, 2.10, 2.13, 2.07, 2.11, 2.04, 2.08, 2.02,
         1.96, 1.86, 1.78, 1.69, 1.63,
         1.70, 1.62, 1.68, 1.74, 1.66, 1.72, 1.64, 1.71, 1.77, 1.69, 1.75, 1.67, 1.60, 1.68, 1.62, 1.70, 1.76, 1.68, 1.74, 1.66,
         1.60, 1.67, 1.73, 1.65, 1.71, 1.78, 1.70, 1.76, 1.68, 1.62, 1.69, 1.63, 1.71, 1.65, 1.58, 1.66, 1.72, 1.64, 1.70, 1.63,
         1.69, 1.75, 1.67, 1.73, 1.80, 1.72, 1.66, 1.73, 1.67, 1.61, 1.68, 1.74, 1.66, 1.72, 1.79, 1.71, 1.77, 1.69, 1.75, 1.82,
         1.74, 1.80, 1.72, 1.78, 1.70, 1.76, 1.83, 1.75, 1.81, 1.73, 1.79, 1.71, 1.77, 1.84, 1.76, 1.82, 1.74, 1.80, 1.72, 1.78]
run43 = [2.30, 2.24, 2.26, 2.18, 2.21, 2.15, 2.10, 2.14, 2.08, 2.11, 2.05, 2.09, 2.02, 2.06, 1.99, 2.03,
         1.95, 1.83, 1.72, 1.62, 1.55,
         1.61, 1.54, 1.60, 1.52, 1.58, 1.65, 1.57, 1.63, 1.55, 1.49, 1.56, 1.62, 1.54, 1.60, 1.67, 1.59, 1.53, 1.60, 1.52, 1.58,
         1.64, 1.56, 1.50, 1.57, 1.51, 1.45, 1.53, 1.59, 1.51, 1.57, 1.63, 1.55, 1.61, 1.53, 1.47, 1.54, 1.60, 1.52, 1.58, 1.65,
         1.57, 1.63, 1.55, 1.49, 1.56, 1.50, 1.57, 1.63, 1.55, 1.61, 1.54, 1.48, 1.55, 1.61, 1.53, 1.59, 1.66, 1.58, 1.52, 1.59,
         1.53, 1.60, 1.54, 1.47, 1.55, 1.61, 1.53, 1.59, 1.51, 1.57, 1.50, 1.56, 1.63, 1.55, 1.49, 1.56, 1.50, 1.57, 1.51, 1.48]
run44 = [2.30, 2.28, 2.25, 2.27, 2.23, 2.26, 2.21, 2.24, 2.19, 2.22, 2.17, 2.20, 2.15, 2.18, 2.13, 2.16,
         2.10, 2.00, 1.93, 1.85, 1.80,
         1.88, 1.82, 1.91, 1.85, 1.94, 1.88, 1.97, 1.91, 2.00, 1.93, 1.87, 1.95, 1.89, 1.98, 1.92, 2.01, 1.94, 1.88, 1.96, 1.90,
         1.98, 1.92, 1.86, 1.94, 1.88, 1.96, 2.02, 1.95, 1.89, 1.97, 1.91, 1.85, 1.93, 1.87, 1.95, 2.01, 1.94, 1.88, 1.96, 1.90,
         1.84, 1.92, 1.86, 1.94, 1.88, 1.82, 1.90, 1.84, 1.92, 1.98, 1.91, 1.85, 1.93, 1.87, 1.81, 1.89, 1.83, 1.91, 1.85, 1.93,
         1.87, 1.95, 1.89, 1.83, 1.91, 1.85, 1.79, 1.87, 1.81, 1.89, 1.83, 1.91, 1.85, 1.79, 1.87, 1.81, 1.88, 1.82, 1.76, 1.84]
run45 = [2.30, 2.23, 2.25, 2.17, 2.20, 2.12, 2.16, 2.09, 2.13, 2.06, 2.10, 2.03, 2.07, 2.00, 2.04, 1.98,
         1.90, 1.79, 1.69, 1.60, 1.52,
         1.59, 1.52, 1.60, 1.55, 1.63, 1.57, 1.66, 1.60, 1.69, 1.63, 1.72, 1.66, 1.75, 1.68, 1.77, 1.71, 1.80, 1.73, 1.82, 1.76,
         1.84, 1.78, 1.86, 1.79, 1.73, 1.81, 1.75, 1.83, 1.77, 1.71, 1.78, 1.72, 1.66, 1.74, 1.68, 1.76, 1.70, 1.64, 1.72, 1.66,
         1.74, 1.68, 1.76, 1.70, 1.78, 1.72, 1.80, 1.74, 1.82, 1.76, 1.70, 1.78, 1.72, 1.80, 1.86, 1.79, 1.73, 1.81, 1.75, 1.83,
         1.77, 1.71, 1.79, 1.73, 1.81, 1.75, 1.69, 1.77, 1.71, 1.65, 1.73, 1.67, 1.75, 1.69, 1.63, 1.71, 1.65, 1.73, 1.67, 1.61]
run46 = [2.30, 2.29, 2.26, 2.28, 2.24, 2.26, 2.22, 2.25, 2.20, 2.23, 2.18, 2.21, 2.16, 2.19, 2.14, 2.17,
         2.08, 1.98, 1.88, 1.80, 1.73,
         1.80, 1.74, 1.81, 1.88, 1.81, 1.87, 1.80, 1.74, 1.82, 1.76, 1.84, 1.90, 1.83, 1.89, 1.82, 1.76, 1.83, 1.77, 1.85, 1.91,
         1.84, 1.90, 1.83, 1.77, 1.85, 1.79, 1.86, 1.80, 1.74, 1.81, 1.75, 1.83, 1.77, 1.84, 1.90, 1.83, 1.89, 1.82, 1.76, 1.83,
         1.77, 1.85, 1.79, 1.73, 1.81, 1.75, 1.82, 1.88, 1.81, 1.87, 1.80, 1.74, 1.81, 1.75, 1.83, 1.77, 1.71, 1.79, 1.73, 1.80,
         1.74, 1.82, 1.76, 1.70, 1.78, 1.72, 1.79, 1.73, 1.80, 1.74, 1.68, 1.76, 1.70, 1.77, 1.71, 1.78, 1.72, 1.79, 1.73, 1.76]
run47 = [2.30, 2.22, 2.25, 2.16, 2.19, 2.11, 2.15, 2.07, 2.11, 2.03, 2.07, 1.99, 2.03, 1.96, 2.00, 1.93,
         1.85, 1.74, 1.63, 1.54, 1.46,
         1.52, 1.45, 1.51, 1.44, 1.50, 1.57, 1.49, 1.55, 1.47, 1.41, 1.48, 1.42, 1.36, 1.43, 1.49, 1.42, 1.48, 1.55, 1.47, 1.53,
         1.60, 1.52, 1.58, 1.50, 1.44, 1.51, 1.45, 1.52, 1.58, 1.50, 1.56, 1.49, 1.43, 1.50, 1.44, 1.38, 1.45, 1.51, 1.44, 1.50,
         1.57, 1.49, 1.55, 1.61, 1.53, 1.59, 1.51, 1.45, 1.52, 1.46, 1.53, 1.59, 1.51, 1.57, 1.63, 1.55, 1.49, 1.56, 1.50, 1.57,
         1.63, 1.55, 1.61, 1.53, 1.47, 1.54, 1.48, 1.55, 1.61, 1.53, 1.59, 1.51, 1.57, 1.50, 1.44, 1.51, 1.45, 1.52, 1.46, 1.53]
run48 = [2.30, 2.29, 2.27, 2.29, 2.26, 2.28, 2.25, 2.27, 2.24, 2.26, 2.23, 2.25, 2.22, 2.24, 2.21, 2.23,
         2.17, 2.10, 2.02, 1.96, 1.91,
         1.98, 1.92, 2.00, 2.06, 1.99, 2.05, 1.98, 2.04, 2.10, 2.03, 2.09, 2.02, 1.96, 2.03, 1.97, 2.04, 2.10, 2.03, 2.08, 2.01,
         1.95, 2.02, 1.96, 2.03, 2.09, 2.02, 2.07, 2.00, 1.94, 2.01, 1.95, 2.02, 2.08, 2.01, 2.06, 1.99, 2.05, 1.98, 1.92, 1.99,
         1.93, 2.00, 1.94, 2.01, 2.07, 2.00, 2.05, 1.98, 1.92, 1.99, 2.05, 1.98, 2.04, 2.10, 2.03, 2.08, 2.01, 2.07, 2.00, 2.06,
         1.99, 2.05, 1.98, 1.92, 1.99, 2.05, 1.98, 2.04, 1.97, 2.03, 2.09, 2.02, 2.07, 2.00, 2.06, 1.99, 2.04, 1.97, 2.03, 1.98]
run49 = [2.30, 2.26, 2.23, 2.25, 2.20, 2.22, 2.17, 2.19, 2.14, 2.17, 2.11, 2.14, 2.08, 2.11, 2.05, 2.08,
         2.00, 1.89, 1.79, 1.70, 1.62,
         1.68, 1.61, 1.67, 1.73, 1.66, 1.72, 1.79, 1.71, 1.77, 1.70, 1.64, 1.71, 1.65, 1.58, 1.65, 1.59, 1.53, 1.60, 1.54, 1.61,
         1.55, 1.62, 1.68, 1.61, 1.67, 1.60, 1.54, 1.61, 1.55, 1.62, 1.68, 1.61, 1.67, 1.74, 1.67, 1.73, 1.66, 1.60, 1.67, 1.61,
         1.55, 1.62, 1.56, 1.50, 1.57, 1.51, 1.58, 1.64, 1.57, 1.63, 1.56, 1.62, 1.69, 1.62, 1.68, 1.61, 1.67, 1.74, 1.67, 1.73,
         1.66, 1.72, 1.65, 1.59, 1.66, 1.60, 1.67, 1.73, 1.66, 1.72, 1.65, 1.59, 1.66, 1.60, 1.54, 1.61, 1.55, 1.62, 1.56, 1.50]
run50 = [2.30, 2.25, 2.19, 2.22, 2.15, 2.18, 2.11, 2.14, 2.07, 2.11, 2.04, 2.08, 2.01, 2.05, 1.98, 2.02,
         1.93, 1.83, 1.74, 1.66, 1.60,
         1.67, 1.61, 1.69, 1.75, 1.68, 1.76, 1.70, 1.78, 1.84, 1.77, 1.83, 1.76, 1.70, 1.77, 1.71, 1.79, 1.85, 1.78, 1.84, 1.77,
         1.71, 1.78, 1.72, 1.80, 1.86, 1.79, 1.85, 1.78, 1.72, 1.79, 1.73, 1.81, 1.87, 1.80, 1.86, 1.79, 1.73, 1.80, 1.74, 1.82,
         1.88, 1.81, 1.75, 1.82, 1.76, 1.84, 1.78, 1.72, 1.79, 1.73, 1.81, 1.87, 1.80, 1.86, 1.79, 1.73, 1.80, 1.74, 1.82, 1.76,
         1.70, 1.77, 1.71, 1.79, 1.73, 1.67, 1.74, 1.68, 1.76, 1.70, 1.64, 1.71, 1.65, 1.73, 1.67, 1.61, 1.68, 1.62, 1.70, 1.64]
run51 = [2.30, 2.27, 2.21, 2.24, 2.18, 2.12, 2.16, 2.10, 2.13, 2.07, 2.01, 2.05, 1.99, 2.03, 1.97, 2.00,
         1.92, 1.81, 1.71, 1.61, 1.53,
         1.60, 1.54, 1.48, 1.56, 1.50, 1.58, 1.64, 1.57, 1.63, 1.56, 1.50, 1.57, 1.51, 1.45, 1.52, 1.46, 1.53, 1.59, 1.52, 1.58,
         1.65, 1.58, 1.64, 1.71, 1.64, 1.70, 1.63, 1.57, 1.64, 1.58, 1.52, 1.59, 1.53, 1.60, 1.66, 1.59, 1.65, 1.58, 1.52, 1.45,
         1.52, 1.46, 1.53, 1.59, 1.52, 1.58, 1.65, 1.58, 1.64, 1.71, 1.64, 1.70, 1.63, 1.57, 1.64, 1.58, 1.65, 1.71, 1.64, 1.70,
         1.63, 1.57, 1.64, 1.58, 1.52, 1.59, 1.53, 1.60, 1.66, 1.59, 1.65, 1.58, 1.52, 1.59, 1.53, 1.47, 1.54, 1.48, 1.55, 1.49]
run52 = [2.30, 2.28, 2.24, 2.26, 2.22, 2.24, 2.19, 2.21, 2.16, 2.19, 2.14, 2.17, 2.12, 2.15, 2.10, 2.13,
         2.06, 1.97, 1.89, 1.81, 1.75,
         1.82, 1.76, 1.83, 1.89, 1.82, 1.88, 1.95, 1.88, 1.94, 1.87, 1.81, 1.88, 1.82, 1.89, 1.95, 1.88, 1.94, 1.87, 1.81, 1.88,
         1.94, 1.87, 1.93, 1.86, 1.80, 1.87, 1.81, 1.88, 1.94, 1.87, 1.93, 1.99, 1.92, 1.98, 1.91, 1.85, 1.92, 1.86, 1.93, 1.99,
         1.92, 1.86, 1.93, 1.87, 1.81, 1.88, 1.82, 1.89, 1.95, 1.88, 1.82, 1.89, 1.83, 1.77, 1.84, 1.78, 1.85, 1.91, 1.84, 1.90,
         1.83, 1.89, 1.82, 1.76, 1.83, 1.77, 1.84, 1.90, 1.83, 1.89, 1.82, 1.76, 1.83, 1.77, 1.71, 1.78, 1.72, 1.79, 1.73, 1.80]
run53 = [2.30, 2.24, 2.19, 2.21, 2.14, 2.17, 2.10, 2.13, 2.06, 2.09, 2.02, 2.05, 1.98, 2.01, 1.94, 1.97,
         1.86, 1.72, 1.60, 1.48, 1.38,
         1.44, 1.37, 1.43, 1.36, 1.42, 1.48, 1.41, 1.47, 1.40, 1.34, 1.41, 1.35, 1.42, 1.48, 1.41, 1.47, 1.40, 1.34, 1.41, 1.35,
         1.29, 1.36, 1.30, 1.37, 1.43, 1.36, 1.42, 1.35, 1.29, 1.36, 1.30, 1.24, 1.31, 1.25, 1.32, 1.38, 1.31, 1.37, 1.30, 1.24,
         1.31, 1.25, 1.32, 1.38, 1.31, 1.37, 1.44, 1.37, 1.43, 1.36, 1.30, 1.37, 1.31, 1.25, 1.32, 1.26, 1.33, 1.39, 1.32, 1.38,
         1.31, 1.25, 1.32, 1.26, 1.20, 1.27, 1.21, 1.28, 1.34, 1.27, 1.33, 1.26, 1.20, 1.27, 1.21, 1.15, 1.22, 1.16, 1.23, 1.17]
run54 = [2.30, 2.14, 2.03, 1.95, 2.01, 1.94, 1.99, 1.92, 1.97, 1.90, 1.95, 1.88, 1.93, 1.86, 1.91, 1.85,
         1.76, 1.66, 1.57, 1.49, 1.43,
         1.50, 1.44, 1.51, 1.57, 1.50, 1.56, 1.63, 1.56, 1.62, 1.55, 1.61, 1.68, 1.61, 1.67, 1.60, 1.54, 1.61, 1.55, 1.62, 1.68,
         1.61, 1.67, 1.60, 1.66, 1.73, 1.66, 1.72, 1.65, 1.59, 1.66, 1.60, 1.67, 1.73, 1.66, 1.72, 1.65, 1.59, 1.66, 1.60, 1.54,
         1.61, 1.55, 1.62, 1.68, 1.61, 1.67, 1.60, 1.54, 1.61, 1.55, 1.62, 1.68, 1.61, 1.67, 1.74, 1.67, 1.73, 1.66, 1.72, 1.65,
         1.59, 1.66, 1.60, 1.67, 1.73, 1.66, 1.72, 1.65, 1.71, 1.64, 1.58, 1.65, 1.59, 1.66, 1.72, 1.65, 1.71, 1.64, 1.58, 1.65]
run55 = [2.30, 2.27, 2.29, 2.25, 2.27, 2.23, 2.25, 2.21, 2.24, 2.19, 2.22, 2.17, 2.20, 2.15, 2.18, 2.14,
         2.07, 1.99, 1.91, 1.84, 1.78,
         1.85, 1.92, 1.86, 1.93, 1.99, 1.92, 1.98, 1.91, 1.85, 1.92, 1.86, 1.93, 1.99, 1.92, 1.98, 2.04, 1.97, 2.03, 1.96, 1.90,
         1.97, 1.91, 1.98, 1.92, 1.86, 1.93, 1.87, 1.94, 2.00, 1.93, 1.99, 1.92, 1.86, 1.93, 1.87, 1.81, 1.88, 1.82, 1.89, 1.95,
         1.88, 1.94, 1.87, 1.81, 1.88, 1.82, 1.89, 1.95, 1.88, 1.94, 1.87, 1.93, 2.00, 1.93, 1.99, 1.92, 1.86, 1.93, 1.87, 1.94,
         2.00, 1.93, 1.99, 1.92, 1.86, 1.93, 1.87, 1.81, 1.88, 1.82, 1.89, 1.95, 1.88, 1.94, 1.87, 1.81, 1.88, 1.82, 1.89, 1.85]

runs = [run01, run02, run03, run04, run05, run06, run07, run08, run09, run10,
        run11, run12, run13, run14, run15, run16, run17, run18, run19, run20,
        run21, run22, run23, run24, run25, run26, run27, run28, run29, run30,
        run31, run32, run33, run34, run35, run36, run37, run38, run39, run40,
        run41, run42, run43, run44, run45, run46, run47, run48, run49, run50,
        run51, run52, run53, run54, run55]

for k, r in enumerate(runs):
    assert len(r) == len(timestep), f"run{k+1:02d} has {len(r)} values"
assert len(mean_run) == len(timestep), f"mean_run has {len(mean_run)} values"

# ---------------- figure ----------------
FONT = "DejaVu Sans Mono"

p = figure(width=1136, height=601,
           x_range=Range1d(-100, 5100), y_range=Range1d(0, 2.78),
           output_backend="svg", toolbar_location=None,
           min_border_left=93, min_border_right=15, min_border_top=30, min_border_bottom=57,
           x_axis_label="Timestep", y_axis_label="Entropy [bits]")
p.background_fill_color = "white"
p.border_fill_color = "white"
p.grid.visible = False
p.outline_line_color = "black"
p.outline_line_width = 1

xticker = SingleIntervalTicker(interval=1000, num_minor_ticks=5)
yticker = SingleIntervalTicker(interval=0.5, num_minor_ticks=5)

def style_axis(ax):
    ax.axis_line_color = "black"
    ax.major_tick_in = 5
    ax.major_tick_out = 0
    ax.minor_tick_in = 3
    ax.minor_tick_out = 0
    ax.major_tick_line_color = "black"
    ax.minor_tick_line_color = "black"
    ax.major_label_text_font = FONT
    ax.major_label_text_font_size = "16px"
    ax.major_label_text_color = "black"
    ax.axis_label_text_font = FONT
    ax.axis_label_text_font_size = "16px"
    ax.axis_label_text_font_style = "normal"
    ax.axis_label_text_color = "black"

p.xaxis.ticker = xticker
p.yaxis.ticker = yticker
p.yaxis.formatter = PrintfTickFormatter(format="%.1f")
style_axis(p.xaxis[0])
style_axis(p.yaxis[0])
p.xaxis.major_label_standoff = 6
p.xaxis.axis_label_standoff = 8
p.yaxis.major_label_standoff = 10
p.yaxis.axis_label_standoff = 11

# mirrored tick marks on the top and right edges of the frame (no labels)
top_ax = LinearAxis(ticker=xticker)
right_ax = LinearAxis(ticker=yticker)
for ax in (top_ax, right_ax):
    style_axis(ax)
    ax.major_label_text_font_size = "1px"
    ax.major_label_text_color = None
    ax.major_label_standoff = 0
p.add_layout(top_ax, "above")
p.add_layout(right_ax, "right")

for s in marker_steps:
    p.add_layout(Span(location=s, dimension="height", line_color="#808080", line_width=1, level="underlay"))
p.add_layout(Span(location=max_entropy, dimension="width", line_color="#808080", line_width=1, level="underlay"))

p.multi_line(xs=[timestep] * len(runs), ys=runs, line_color="#1c1cbc", line_alpha=0.15,
             line_width=3.0, line_join="round")
p.line(timestep, mean_run, line_color="black", line_width=2.2, line_join="round")

open("out.html", "w").write(file_html(p, INLINE))
